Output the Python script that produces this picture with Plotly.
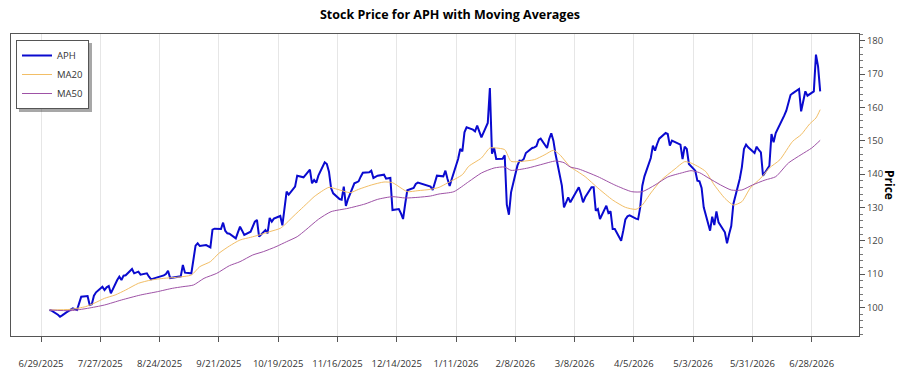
import pandas as pd
import plotly.graph_objects as go

# ---- data ----
start_date = "2025-07-03"
end_date = "2026-07-02"
aph_close = [
    # week of 6/30/2025 (Thu, Fri)
    99.2, 99.0,
    97.8, 97.2, 97.6, 98.1, 98.5,
    99.7, 99.4, 99.2, 101.2, 103.2,
    103.4, 100.7, 100.9, 103.5, 104.5,
    106.2, 105.2, 106.0, 106.4, 104.2,
    108.2, 109.2, 108.2, 109.5, 109.6,
    111.5, 110.2, 110.4, 110.7, 109.8,
    110.2, 109.2, 108.4, 108.6, 108.8,
    109.3, 109.6, 110.0, 111.0, 108.8,
    109.0, 109.1, 109.3, 112.7, 110.4,
    110.2, 115.0, 118.5, 119.2, 118.4,
    118.7, 118.3, 118.0, 123.3, 123.6,
    123.5, 125.4, 123.0, 122.2, 122.1,
    120.7, 122.5, 124.2, 123.0, 121.7,
    122.7, 124.0, 125.7, 126.2, 121.2,
    123.2, 122.2, 126.8, 125.7, 126.6,
    127.4, 124.6, 130.0, 134.7, 133.8,
    136.2, 139.5, 139.3, 139.1, 139.0,
    141.3, 137.2, 138.2, 137.4, 139.5,
    143.5, 143.0, 140.7, 135.8, 134.2,
    132.5, 132.3, 136.2, 130.4, 132.5,
    137.2, 137.5, 137.8, 139.2, 140.4,
    140.5, 141.0, 138.8, 139.2, 139.5,
    139.8, 138.6, 138.7, 138.8, 129.2,
    129.5, 128.2, 126.5, 131.0, 135.1,
    135.8, 137.0, 137.4, 137.2, 137.0,
    136.5, 136.2, 135.2, 137.5, 139.5,
    # 2026
    139.3, 141.0, 138.5, 136.4, 138.5,
    144.5, 147.5, 146.8, 152.5, 154.0,
    153.3, 152.8, 154.5, 152.5, 151.0,
    155.3, 165.8, 146.1, 147.8, 144.5,
    144.6, 145.6, 130.8, 127.8, 134.5,
    142.5, 144.0, 143.9, 144.5, 146.3,
    147.8, 148.0, 148.4, 150.2, 150.6,
    147.8, 150.5, 152.2, 150.0, 146.0,
    136.5, 130.0, 131.5, 133.0, 131.5,
    134.8, 136.0, 134.0, 131.5, 133.0,
    136.0, 136.0, 129.0, 129.5, 126.5,
    130.5, 128.3, 128.8, 123.5, 123.5,
    120.0, 123.0, 126.4, 127.3, 127.6,
    126.6, 126.4, 130.0, 136.5, 139.3,
    144.8, 148.5, 147.0, 149.0, 150.6,
    152.3, 152.0, 148.5, 150.0, 149.7,
    148.8, 144.5, 148.2, 147.5, 143.0,
    141.0, 138.0, 137.8, 135.8, 130.0,
    123.0, 127.2, 124.7, 128.8, 125.5,
    122.5, 119.2, 122.0, 124.4, 131.0,
    138.5, 142.0, 147.5, 148.8, 148.0,
    146.3, 148.2, 147.2, 146.5, 139.5,
    142.5, 152.0, 149.5, 152.3, 153.5,
    157.5, 159.0, 161.0, 163.7, 164.2,
    165.5, 158.8, 162.0, 164.8, 163.5,
    164.8, 175.8, 172.3, 164.8,
]

ma20_dates = [
    "2025-07-03", "2025-07-13", "2025-07-20", "2025-07-24", "2025-07-29", "2025-08-03",
    "2025-08-08", "2025-08-14", "2025-08-20", "2025-08-26", "2025-09-01", "2025-09-08",
    "2025-09-12", "2025-09-17", "2025-09-21", "2025-09-26", "2025-10-01", "2025-10-06",
    "2025-10-10", "2025-10-15", "2025-10-20", "2025-10-22", "2025-10-26", "2025-10-31",
    "2025-11-03", "2025-11-05", "2025-11-12", "2025-11-16", "2025-11-22", "2025-11-26",
    "2025-12-02", "2025-12-08", "2025-12-12", "2025-12-16", "2025-12-19", "2025-12-24",
    "2025-12-30", "2026-01-03", "2026-01-07", "2026-01-14", "2026-01-17", "2026-01-23",
    "2026-01-27", "2026-01-30", "2026-02-03", "2026-02-06", "2026-02-11", "2026-02-17",
    "2026-02-22", "2026-02-26", "2026-03-01", "2026-03-06", "2026-03-08", "2026-03-13",
    "2026-03-19", "2026-03-26", "2026-04-01", "2026-04-06", "2026-04-09", "2026-04-13",
    "2026-04-18", "2026-04-24", "2026-04-29", "2026-05-02", "2026-05-06", "2026-05-09",
    "2026-05-13", "2026-05-18", "2026-05-22", "2026-05-26", "2026-05-30", "2026-06-04",
    "2026-06-08", "2026-06-13", "2026-06-19", "2026-06-23", "2026-06-27", "2026-06-30",
    "2026-07-02",
]
ma20_values = [
    99.2, 99.4, 100.2, 101.2, 102.7, 103.7,
    105.2, 107.2, 108.2, 108.7, 109.0, 109.7,
    112.2, 113.7, 116.2, 118.4, 120.2, 121.0,
    121.7, 122.7, 123.7, 124.7, 127.2, 130.2,
    132.0, 133.2, 136.0, 135.4, 134.4, 135.4,
    136.7, 137.6, 137.4, 135.8, 134.7, 135.0,
    135.4, 136.0, 137.3, 139.8, 142.3, 144.8,
    147.8, 147.8, 147.3, 143.8, 143.8, 144.3,
    145.8, 147.1, 145.8, 142.1, 141.3, 139.2,
    135.8, 132.2, 130.0, 129.4, 130.7, 134.3,
    138.2, 141.3, 143.7, 143.3, 142.0, 140.7,
    136.7, 132.7, 130.7, 131.7, 135.8, 138.8,
    141.8, 144.3, 149.8, 151.8, 155.0, 156.8,
    159.3,
]

ma50_dates = [
    "2025-07-03", "2025-07-13", "2025-07-21", "2025-07-29", "2025-08-06", "2025-08-15",
    "2025-08-23", "2025-08-30", "2025-09-04", "2025-09-09", "2025-09-14", "2025-09-20",
    "2025-09-26", "2025-10-01", "2025-10-07", "2025-10-12", "2025-10-18", "2025-10-23",
    "2025-10-28", "2025-11-01", "2025-11-07", "2025-11-13", "2025-11-21", "2025-11-29",
    "2025-12-05", "2025-12-12", "2025-12-18", "2025-12-24", "2025-12-30", "2026-01-03",
    "2026-01-10", "2026-01-17", "2026-01-23", "2026-01-29", "2026-02-03", "2026-02-06",
    "2026-02-14", "2026-02-20", "2026-02-27", "2026-03-03", "2026-03-06", "2026-03-10",
    "2026-03-19", "2026-03-27", "2026-04-04", "2026-04-09", "2026-04-15", "2026-04-21",
    "2026-04-28", "2026-05-02", "2026-05-06", "2026-05-10", "2026-05-16", "2026-05-21",
    "2026-05-26", "2026-05-31", "2026-06-06", "2026-06-11", "2026-06-17", "2026-06-23",
    "2026-06-28", "2026-07-02",
]
ma50_values = [
    99.2, 99.0, 99.7, 100.7, 102.2, 103.7,
    104.7, 105.7, 106.2, 106.7, 108.7, 110.2,
    112.5, 113.7, 115.7, 116.7, 118.2, 119.7,
    121.2, 123.2, 126.4, 128.7, 129.7, 131.0,
    132.4, 133.2, 132.8, 133.0, 133.4, 134.0,
    134.7, 137.7, 140.3, 141.8, 142.1, 141.1,
    141.8, 142.8, 143.9, 143.4, 142.1, 141.5,
    139.2, 136.7, 134.7, 134.7, 136.7, 139.1,
    140.4, 141.0, 140.4, 138.9, 136.7, 135.2,
    135.2, 136.7, 138.2, 139.2, 143.3, 145.8,
    147.8, 150.1,
]

series_names = ["APH", "MA20", "MA50"]
x_tick_start = "2025-06-29"
x_tick_step_days = 28
y_range = [91.4, 182.0]
x_range = ["2025-06-14 20:00", "2026-07-20 08:00"]

dates = pd.bdate_range(start_date, end_date)[: len(aph_close)]

fig = go.Figure()
fig.add_trace(go.Scatter(x=dates, y=aph_close, name=series_names[0], mode="lines",
                         line=dict(color="#0A0ACF", width=2)))
fig.add_trace(go.Scatter(x=pd.to_datetime(ma20_dates), y=ma20_values, name=series_names[1],
                         mode="lines", line=dict(color="#F2BE66", width=1, shape="spline", smoothing=0.6)))
fig.add_trace(go.Scatter(x=pd.to_datetime(ma50_dates), y=ma50_values, name=series_names[2],
                         mode="lines", line=dict(color="#9E52A6", width=1, shape="spline", smoothing=0.6)))

# plot-area geometry in pixels (used only to place the legend and its drop shadow)
plot_l, plot_t, plot_w, plot_h = 11, 34, 848, 302
leg_l, leg_t = 16, 40
leg_w, leg_h = 73, 69
shadow_off = 3


def px_x(px):
    return (px - plot_l) / plot_w


def px_y(py):
    return 1 - (py - plot_t) / plot_h


font_family = "Open Sans, Noto Sans, DejaVu Sans, sans-serif"
fig.update_layout(
    width=900, height=375,
    margin=dict(l=plot_l, r=900 - plot_l - plot_w, t=plot_t, b=375 - plot_t - plot_h),
    paper_bgcolor="white", plot_bgcolor="white",
    font=dict(family=font_family, size=10, color="#333"),
    title=dict(text="Stock Price for APH with Moving Averages", x=0.5, xanchor="center",
               y=1 - 15 / 375, yanchor="middle",
               font=dict(size=12.5, color="#000", weight="bold")),
    showlegend=True,
    legend=dict(x=px_x(leg_l), y=px_y(leg_t), xanchor="left", yanchor="top",
                bgcolor="white", bordercolor="#555", borderwidth=1,
                itemwidth=30, font=dict(size=9.5, color="#333")),
    xaxis=dict(type="date", range=x_range, tick0=x_tick_start,
               dtick=x_tick_step_days * 86400000, tickformat="%-m/%-d/%Y",
               tickangle=0, automargin=False,
               showgrid=True, gridcolor="#e6e6e6", gridwidth=1,
               ticks="outside", ticklen=5, tickcolor="#555",
               showline=True, linecolor="#555", linewidth=1, mirror=True,
               zeroline=False, ticklabelstandoff=14,
               tickfont=dict(size=9.5, color="#333")),
    yaxis=dict(side="right", range=y_range, dtick=10, tick0=100,
               automargin=False,
               showgrid=False, zeroline=False,
               ticks="outside", ticklen=5, tickcolor="#555",
               showline=True, linecolor="#555", linewidth=1, mirror=True,
               minor=dict(ticks="outside", ticklen=3, dtick=2, tickcolor="#777", showgrid=False),
               tickfont=dict(size=9.5, color="#444")),
)
# legend drop shadow
fig.add_shape(type="rect", xref="paper", yref="paper", layer="above",
              x0=px_x(leg_l + shadow_off), x1=px_x(leg_l + leg_w + shadow_off),
              y0=px_y(leg_t + shadow_off), y1=px_y(leg_t + leg_h + shadow_off),
              fillcolor="rgba(60,60,60,0.45)", line=dict(width=0))
fig.add_annotation(text="Price", xref="paper", yref="paper", x=1, y=0.5,
                   xanchor="center", yanchor="middle", xshift=31, showarrow=False,
                   textangle=90, font=dict(size=12, color="#000", weight="bold"))

fig.write_html("out.html")
